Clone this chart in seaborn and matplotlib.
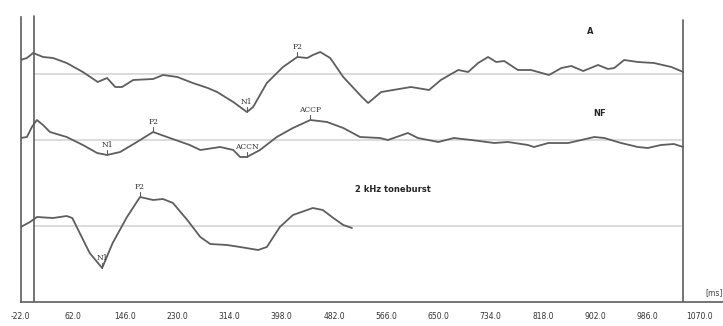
# evoked potential traces, three conditions stacked
import matplotlib
matplotlib.use("Agg")
import matplotlib.pyplot as plt
import seaborn as sns
import numpy as np

# time points (ms) and amplitudes (uV)
time_a = [-22, -12, -2, 14, 30, 52, 78, 102, 117, 130, 141, 159, 191, 207, 230, 255, 279, 294,
          320, 342, 352, 374, 400, 423, 439, 448, 460, 476, 497, 527, 537, 558, 606, 635, 654,
          682, 698, 714, 730, 743, 756, 778, 799, 828, 848, 864, 883, 907, 923, 933, 949, 971,
          997, 1025, 1044]
amp_a = [1.4, 1.6, 2.1, 1.7, 1.6, 1.1, 0.2, -0.8, -0.4, -1.3, -1.3, -0.6, -0.5, -0.1, -0.3,
         -0.9, -1.4, -1.8, -2.8, -3.8, -3.3, -0.9, 0.7, 1.7, 1.6, 1.9, 2.2, 1.6, -0.3, -2.3,
         -2.9, -1.8, -1.3, -1.6, -0.6, 0.4, 0.2, 1.1, 1.7, 1.2, 1.3, 0.4, 0.4, -0.1, 0.6, 0.8,
         0.3, 0.9, 0.5, 0.6, 1.4, 1.2, 1.1, 0.7, 0.2]

time_nf = [-22, -12, -4, 4, 14, 25, 52, 78, 101, 117, 138, 165, 191, 218, 250, 267, 299, 320,
           331, 342, 363, 390, 416, 444, 471, 497, 524, 556, 569, 601, 617, 650, 675, 703, 740,
           762, 794, 804, 827, 859, 880, 901, 917, 944, 971, 987, 1008, 1029, 1044]
amp_nf = [0.2, 0.3, 1.3, 2.0, 1.5, 0.8, 0.3, -0.5, -1.3, -1.5, -1.2, -0.2, 0.8, 0.2, -0.5,
          -1.0, -0.7, -1.0, -1.7, -1.7, -1.0, 0.3, 1.2, 2.0, 1.8, 1.2, 0.3, 0.2, 0.0, 0.7, 0.2,
          -0.2, 0.2, 0.0, -0.3, -0.2, -0.5, -0.7, -0.3, -0.3, 0.0, 0.3, 0.2, -0.3, -0.7, -0.8,
          -0.5, -0.4, -0.7]

time_tb = [-22, -7, 4, 30, 52, 61, 73, 89, 109, 126, 149, 170, 191, 207, 223, 246, 267, 283,
           310, 331, 360, 374, 395, 416, 448, 464, 481, 497, 511]
amp_tb = [-0.1, 0.4, 0.9, 0.8, 1.0, 0.8, -0.7, -2.7, -4.2, -1.7, 0.9, 2.9, 2.6, 2.7, 2.3, 0.6,
          -1.1, -1.8, -1.9, -2.1, -2.4, -2.1, -0.1, 1.1, 1.8, 1.6, 0.8, 0.1, -0.2]

# vertical offsets of the three traces
offsets = [22.8, 16.2, 7.6]
conditions = ["A", "NF", "2 kHz toneburst"]

# peaks: (trace index, label, latency ms)
peaks = [(0, "N1", 342), (0, "P2", 423),
         (1, "N1", 117), (1, "P2", 191), (1, "ACCN", 342), (1, "ACCP", 444),
         (2, "N1", 109), (2, "P2", 170)]

xticks = np.arange(-22, 1071, 84)

sns.set_style("white")
fig = plt.figure(figsize=(7.23, 3.26), dpi=100)
ax = fig.add_axes([20.7 / 723, 1 - 302 / 326, 1 - 20.7 / 723, 302 / 326])

traces = [(time_a, amp_a), (time_nf, amp_nf), (time_tb, amp_tb)]
line_col = "#5e5e5e"

for (t, a), off in zip(traces, offsets):
    ax.plot([0, 1040], [off, off], color="#d6d6d6", lw=1.2, zorder=1)
    sns.lineplot(x=t, y=np.array(a) + off, color=line_col, lw=1.3, ax=ax, zorder=3)

# stimulus onset line and window end
ax.plot([0, 0], [0, 28.6], color=line_col, lw=1.2)
ax.plot([1044, 1044], [0, 28.2], color=line_col, lw=1.2)

# peak labels with small markers
for idx, lab, lat in peaks:
    t, a = traces[idx]
    i = t.index(lat)
    y = a[i] + offsets[idx]
    ax.plot([lat, lat], [y, y + 0.5], color=line_col, lw=0.8)
    ax.text(lat, y + 0.6, lab, ha="center", va="bottom", fontsize=5.5,
            family="DejaVu Serif", color="#333333")

# condition labels
ax.text(894, 27.0, conditions[0], fontsize=6, fontweight="bold", ha="center", va="center")
ax.text(910, 18.9, conditions[1], fontsize=6, fontweight="bold", ha="center", va="center")
ax.text(516, 11.2, conditions[2], fontsize=6, fontweight="bold", ha="left", va="center")
ax.text(1079, 0.9, "[ms]", fontsize=5.5, ha="left", va="center", color="#444444")

ax.set_xlim(-22, 1108)
ax.set_ylim(0, 30.2)
ax.set_xticks(xticks)
ax.set_xticklabels([f"{v:.1f}" for v in xticks])
ax.set_yticks([offsets[0] + 1.1, offsets[1] + 0.1, offsets[2] + 0.8])
ax.set_yticklabels([])
ax.tick_params(axis="both", direction="inout", length=3, width=0.8, color=line_col,
               labelsize=5.5, pad=6, labelcolor="#333333")
for side in ["top", "right"]:
    ax.spines[side].set_visible(False)
ax.spines["left"].set_color(line_col)
ax.spines["bottom"].set_color(line_col)
ax.spines["left"].set_linewidth(1.2)
ax.spines["bottom"].set_linewidth(1.2)
ax.spines["left"].set_bounds(0, 28.5)

fig.savefig("out.png", dpi=100)
